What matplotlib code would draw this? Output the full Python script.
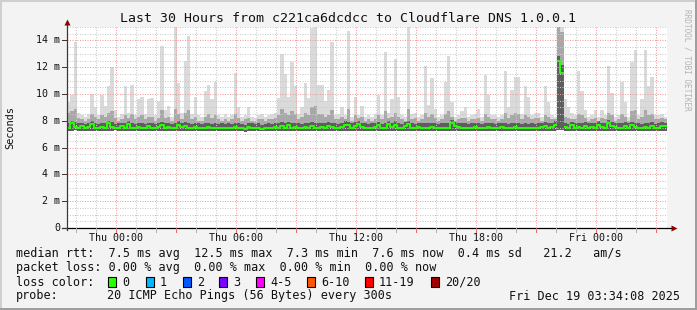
import numpy as np
import matplotlib
matplotlib.use("Agg")
import matplotlib.pyplot as plt
from matplotlib.patches import Rectangle

# ---------------- data (milliseconds, 10-minute steps, 30 hours) ----------------
start_hour = -2.4333          # Wed 21:34 relative to Thu 00:00
step_hours = 1.0 / 6.0

rtt_max = [
    9.4, 9.9, 13.9, 8.6, 8.4, 8.3, 8.5, 10.0, 9.0, 8.4,
    9.9, 9.1, 10.6, 12.0, 8.8, 8.3, 8.5, 10.6, 8.6, 10.7,
    8.4, 9.6, 9.8, 8.5, 9.6, 9.7, 8.4, 9.5, 13.6, 8.8,
    9.1, 8.3, 15.0, 10.8, 8.6, 12.5, 14.3, 8.5, 9.8, 8.4,
    8.3, 10.2, 10.7, 9.6, 10.9, 8.4, 8.3, 8.5, 8.3, 8.4,
    11.6, 9.0, 8.3, 8.4, 9.0, 8.3, 8.2, 8.4, 8.5, 8.3,
    8.4, 8.5, 8.6, 9.7, 13.0, 11.5, 9.8, 12.4, 10.6, 8.5,
    9.0, 10.8, 9.7, 14.9, 15.0, 10.7, 10.7, 9.5, 10.3, 13.9,
    8.4, 8.5, 9.0, 8.4, 14.7, 8.3, 9.8, 8.4, 9.1, 8.3,
    8.4, 8.3, 8.5, 9.9, 8.4, 13.1, 8.6, 9.6, 12.6, 9.8,
    8.4, 8.3, 15.0, 8.5, 8.6, 8.3, 8.4, 12.1, 9.2, 11.2,
    8.9, 8.3, 8.4, 10.9, 12.8, 9.4, 8.3, 8.4, 8.7, 9.0,
    8.3, 8.4, 8.5, 8.9, 8.3, 11.4, 9.9, 8.4, 8.4, 8.3,
    8.4, 11.7, 9.0, 10.3, 11.3, 11.3, 8.5, 10.6, 9.8, 8.4,
    8.6, 8.6, 8.3, 10.6, 9.4, 8.4, 8.3, 15.0, 15.0, 9.6,
    9.0, 8.6, 8.4, 11.7, 10.2, 8.8, 8.3, 8.4, 8.8, 8.3,
    8.8, 8.4, 12.1, 10.1, 8.3, 8.4, 10.9, 9.4, 8.3, 12.4,
    13.3, 8.4, 9.6, 13.3, 10.6, 11.3, 8.4, 8.4, 8.5, 8.3,
]

rtt_p90 = [
    8.6, 8.7, 8.9, 8.2, 8.1, 8.0, 8.1, 8.5, 8.3, 8.1,
    8.4, 8.3, 8.6, 8.7, 8.2, 8.0, 8.1, 8.4, 8.2, 8.5,
    8.1, 8.3, 8.4, 8.1, 8.3, 8.3, 8.0, 8.2, 8.8, 8.2,
    8.3, 8.0, 8.9, 8.5, 8.1, 8.6, 8.8, 8.1, 8.3, 8.0,
    8.0, 8.3, 8.5, 8.2, 8.4, 8.1, 8.0, 8.1, 8.0, 8.1,
    8.5, 8.2, 8.0, 8.1, 8.2, 8.0, 7.9, 8.1, 8.1, 8.0,
    8.1, 8.1, 8.2, 8.4, 8.9, 8.6, 8.4, 8.7, 8.5, 8.1,
    8.3, 8.6, 8.4, 9.0, 9.1, 8.5, 8.5, 8.3, 8.4, 8.8,
    8.1, 8.1, 8.3, 8.1, 8.9, 8.0, 8.4, 8.2, 8.3, 8.0,
    8.1, 8.0, 8.1, 8.4, 8.1, 8.7, 8.2, 8.3, 8.6, 8.3,
    8.1, 8.0, 8.9, 8.1, 8.2, 8.0, 8.1, 8.6, 8.3, 8.5,
    8.2, 8.0, 8.1, 8.5, 8.7, 8.3, 8.0, 8.1, 8.2, 8.2,
    8.0, 8.1, 8.1, 8.2, 8.0, 8.5, 8.3, 8.1, 8.1, 8.0,
    8.1, 8.6, 8.2, 8.4, 8.6, 8.5, 8.1, 8.4, 8.3, 8.1,
    8.2, 8.2, 8.0, 8.4, 8.3, 8.1, 8.1, 15.0, 14.6, 8.3,
    8.2, 8.1, 8.1, 8.5, 8.4, 8.2, 8.0, 8.1, 8.2, 8.0,
    8.2, 8.1, 8.6, 8.4, 8.0, 8.1, 8.5, 8.3, 8.0, 8.7,
    8.8, 8.1, 8.3, 8.8, 8.4, 8.5, 8.1, 8.1, 8.2, 8.1,
]

rtt_p75 = [
    7.80, 8.00, 7.90, 7.80, 7.85, 7.75, 7.80, 7.95, 7.80, 7.75,
    7.85, 7.80, 8.00, 7.90, 7.75, 7.80, 7.85, 7.80, 7.95, 7.80,
    7.75, 7.85, 7.80, 7.75, 7.85, 7.80, 7.75, 7.85, 7.90, 7.80,
    7.85, 7.75, 7.85, 7.95, 7.80, 7.90, 7.85, 7.75, 7.85, 7.80,
    7.75, 7.80, 7.85, 7.75, 7.80, 7.75, 7.80, 7.75, 7.80, 7.75,
    7.85, 7.80, 7.75, 7.70, 7.85, 7.80, 7.75, 7.80, 7.70, 7.75,
    7.80, 7.75, 7.85, 7.80, 7.90, 7.80, 7.90, 7.85, 7.85, 7.80,
    7.75, 7.85, 7.80, 7.90, 7.85, 7.80, 7.85, 7.80, 7.90, 7.85,
    7.80, 7.75, 7.85, 7.95, 7.90, 7.80, 7.90, 8.00, 7.85, 7.80,
    7.75, 7.80, 7.85, 7.90, 7.75, 7.85, 8.00, 7.85, 7.95, 7.80,
    7.75, 7.90, 8.00, 7.80, 7.75, 7.85, 7.80, 7.80, 7.80, 7.85,
    7.80, 7.75, 7.80, 7.80, 7.85, 8.05, 7.90, 7.85, 7.80, 7.80,
    7.75, 7.80, 7.85, 7.80, 7.75, 7.85, 7.85, 7.80, 7.75, 7.80,
    7.85, 7.85, 7.75, 7.80, 7.85, 7.80, 7.75, 7.85, 7.75, 7.80,
    7.75, 7.80, 7.85, 7.90, 7.80, 7.85, 7.95, 12.80, 12.20, 7.85,
    7.75, 7.90, 7.80, 7.85, 7.80, 7.90, 7.80, 7.85, 7.80, 7.95,
    7.85, 7.80, 8.05, 7.90, 7.85, 7.80, 7.80, 7.90, 7.80, 7.90,
    7.85, 7.80, 7.75, 7.85, 7.80, 7.90, 7.75, 7.80, 7.90, 7.85,
]

rtt_median = [
    7.45, 7.85, 7.55, 7.50, 7.60, 7.45, 7.55, 7.75, 7.50, 7.45,
    7.55, 7.50, 7.80, 7.55, 7.45, 7.50, 7.60, 7.50, 7.75, 7.50,
    7.45, 7.55, 7.50, 7.45, 7.60, 7.50, 7.45, 7.55, 7.65, 7.50,
    7.55, 7.45, 7.50, 7.70, 7.55, 7.60, 7.50, 7.45, 7.55, 7.50,
    7.45, 7.50, 7.55, 7.45, 7.50, 7.45, 7.50, 7.45, 7.50, 7.45,
    7.55, 7.50, 7.45, 7.40, 7.55, 7.50, 7.45, 7.50, 7.40, 7.45,
    7.50, 7.45, 7.55, 7.50, 7.60, 7.45, 7.65, 7.50, 7.55, 7.50,
    7.45, 7.55, 7.50, 7.60, 7.50, 7.45, 7.55, 7.50, 7.60, 7.55,
    7.50, 7.45, 7.55, 7.70, 7.65, 7.50, 7.60, 7.75, 7.55, 7.50,
    7.45, 7.50, 7.55, 7.65, 7.45, 7.50, 7.75, 7.55, 7.70, 7.50,
    7.45, 7.60, 7.75, 7.50, 7.45, 7.55, 7.50, 7.45, 7.50, 7.55,
    7.50, 7.45, 7.50, 7.45, 7.50, 7.80, 7.60, 7.55, 7.50, 7.50,
    7.45, 7.50, 7.55, 7.50, 7.45, 7.50, 7.55, 7.50, 7.45, 7.50,
    7.55, 7.50, 7.45, 7.50, 7.55, 7.50, 7.45, 7.50, 7.45, 7.50,
    7.45, 7.50, 7.55, 7.60, 7.50, 7.55, 7.70, 12.50, 11.60, 7.55,
    7.45, 7.65, 7.50, 7.55, 7.50, 7.60, 7.50, 7.55, 7.50, 7.70,
    7.55, 7.50, 7.80, 7.60, 7.55, 7.50, 7.45, 7.60, 7.50, 7.65,
    7.55, 7.50, 7.45, 7.55, 7.50, 7.60, 7.45, 7.50, 7.60, 7.60,
]

rtt_min = [
    7.25, 7.22, 7.28, 7.24, 7.26, 7.23, 7.27, 7.25, 7.22, 7.26,
    7.24, 7.27, 7.23, 7.25, 7.28, 7.22, 7.26, 7.24, 7.25, 7.23,
    7.26, 7.24, 7.22, 7.27, 7.25, 7.23, 7.26, 7.24, 7.22, 7.25,
    7.27, 7.23, 7.25, 7.24, 7.26, 7.22, 7.25, 7.27, 7.23, 7.24,
    7.26, 7.22, 7.25, 7.23, 7.27, 7.24, 7.22, 7.26, 7.25, 7.23,
    7.24, 7.26, 7.22, 7.20, 7.25, 7.23, 7.27, 7.24, 7.21, 7.25,
    7.23, 7.26, 7.24, 7.22, 7.25, 7.27, 7.23, 7.25, 7.24, 7.26,
    7.22, 7.25, 7.23, 7.27, 7.24, 7.22, 7.26, 7.25, 7.23, 7.24,
    7.26, 7.22, 7.25, 7.27, 7.23, 7.24, 7.26, 7.22, 7.25, 7.23,
    7.24, 7.26, 7.22, 7.25, 7.27, 7.23, 7.24, 7.26, 7.22, 7.25,
    7.23, 7.26, 7.24, 7.22, 7.25, 7.27, 7.23, 7.25, 7.24, 7.26,
    7.22, 7.25, 7.23, 7.27, 7.24, 7.22, 7.26, 7.25, 7.23, 7.24,
    7.26, 7.22, 7.25, 7.23, 7.27, 7.24, 7.22, 7.26, 7.25, 7.23,
    7.24, 7.26, 7.22, 7.25, 7.27, 7.23, 7.24, 7.26, 7.22, 7.25,
    7.23, 7.26, 7.24, 7.22, 7.25, 7.27, 7.23, 7.30, 7.28, 7.26,
    7.22, 7.25, 7.23, 7.27, 7.24, 7.22, 7.26, 7.25, 7.23, 7.24,
    7.26, 7.22, 7.25, 7.23, 7.27, 7.24, 7.22, 7.26, 7.25, 7.23,
    7.24, 7.26, 7.22, 7.25, 7.27, 7.23, 7.24, 7.26, 7.22, 7.25,
]

x_tick_hours = [0, 6, 12, 18, 24]
x_tick_labels = ["Thu 00:00", "Thu 06:00", "Thu 12:00", "Thu 18:00", "Fri 00:00"]
y_tick_values = [0, 2, 4, 6, 8, 10, 12, 14]
y_tick_labels = ["0", "2 m", "4 m", "6 m", "8 m", "10 m", "12 m", "14 m"]

title = "Last 30 Hours from c221ca6dcdcc to Cloudflare DNS 1.0.0.1"
legend_line1 = "median rtt:  7.5 ms avg  12.5 ms max  7.3 ms min  7.6 ms now  0.4 ms sd   21.2   am/s"
legend_line2 = "packet loss: 0.00 % avg  0.00 % max  0.00 % min  0.00 % now"
loss_labels = ["0", "1", "2", "3", "4-5", "6-10", "11-19", "20/20"]
loss_colors = ["#26ff00", "#00b8ff", "#0059ff", "#7e00ff", "#ff00ff", "#ff5500", "#ff0000", "#a10000"]
probe_text = "20 ICMP Echo Pings (56 Bytes) every 300s"
stamp_text = "Fri Dec 19 03:34:08 2025"

# ---------------- figure ----------------
W, H = 697, 310
BG = "#f3f3f3"
MONO = "DejaVu Sans Mono"

fig = plt.figure(figsize=(W / 100, H / 100), dpi=100, facecolor=BG)

def fx(x):
    return x / W

def fy(y):
    return 1 - y / H

# 3D-ish frame around the image
fig.add_artist(Rectangle((0, fy(2)), 1, 2 / H, transform=fig.transFigure,
                         facecolor="#cfcfcf", edgecolor="none"))
fig.add_artist(Rectangle((0, 0), 2 / W, 1, transform=fig.transFigure,
                         facecolor="#cfcfcf", edgecolor="none"))
fig.add_artist(Rectangle((0, 0), 1, 2 / H, transform=fig.transFigure,
                         facecolor="#9e9e9e", edgecolor="none"))
fig.add_artist(Rectangle((1 - 2 / W, 0), 2 / W, 1, transform=fig.transFigure,
                         facecolor="#9e9e9e", edgecolor="none"))

left, right, top, bottom = 67, 667, 27, 228
ax = fig.add_axes([fx(left), fy(bottom), (right - left) / W, (bottom - top) / H])
ax.set_facecolor("white")
for s in ax.spines.values():
    s.set_visible(False)

n = len(rtt_median)
edges = start_hour + step_hours * np.arange(n + 1)

def ext(a):
    a = np.asarray(a, dtype=float)
    return np.append(a, a[-1])

ax.fill_between(edges, ext(rtt_min), ext(rtt_max), step="post",
                color="#dadada", lw=0, zorder=1)
ax.fill_between(edges, ext(rtt_min), ext(rtt_p90), step="post",
                color="#a8a8a8", lw=0, zorder=2)
ax.fill_between(edges, ext(rtt_min), ext(rtt_p75), step="post",
                color="#5e5e5e", lw=0, zorder=3)

ax.set_xlim(start_hour, start_hour + 30)
ax.set_ylim(0, 15)
ax.set_xticks([])
ax.set_yticks([])

# grid
minor_c = "#c8c8c8"
major_c = "#f29a9a"
for h in range(-2, 28):
    is_major = (h % 3 == 0)
    ax.axvline(h, color=major_c if is_major else minor_c, lw=0.72,
               dashes=(1, 1.5), zorder=4)
for v in np.arange(0.5, 15.01, 0.5):
    is_major = abs(v % 2) < 1e-9
    ax.axhline(v, color=major_c if is_major else minor_c, lw=0.72,
               dashes=(1, 1.5), zorder=4)

# median line (steps, broken at big jumps)
med = np.asarray(rtt_median)
xs, ys = [], []
for i in range(n):
    if i > 0 and abs(med[i] - med[i - 1]) > 1.0:
        xs.append(np.nan)
        ys.append(np.nan)
    xs += [edges[i], edges[i + 1]]
    ys += [med[i], med[i]]
ax.plot(xs, ys, color=loss_colors[0], lw=1.4, zorder=6, solid_capstyle="butt")

# axes lines with arrows
axis_c = "#3a3a3a"
ax.plot([0, 0], [-0.01, 1.02], transform=ax.transAxes, color=axis_c, lw=0.9,
        clip_on=False, zorder=7)
ax.plot([-0.008, 1.008], [0, 0], transform=ax.transAxes, color="black", lw=0.9,
        clip_on=False, zorder=7)
ax.plot([0], [1.025], transform=ax.transAxes, marker="^", ms=4.5,
        color="#8b0000", clip_on=False, zorder=8, mec="none")
ax.plot([1.011], [0], transform=ax.transAxes, marker=">", ms=4.5,
        color="#8b0000", clip_on=False, zorder=8, mec="none")

# tick marks
for h in range(-2, 28):
    c = "#e07070" if h % 3 == 0 else "#b0b0b0"
    ax.plot([h, h], [0, -0.3], color=c, lw=0.72, clip_on=False, zorder=7)
for v in y_tick_values:
    ax.plot([start_hour - 0.25, start_hour], [v, v], color=axis_c, lw=0.72,
            clip_on=False, zorder=7)

# tick labels
for h, lab in zip(x_tick_hours, x_tick_labels):
    xp = left + (h - start_hour) / 30 * (right - left)
    fig.text(fx(xp), fy(238), lab, family=MONO, fontsize=7.2,
             ha="center", va="center", color="#111111")
for v, lab in zip(y_tick_values, y_tick_labels):
    yp = bottom - v / 15 * (bottom - top)
    fig.text(fx(60), fy(yp), lab, family=MONO, fontsize=7.2,
             ha="right", va="center", color="#111111")

fig.text(fx(10), fy(128), "Seconds", family=MONO, fontsize=7.4, rotation=90,
         ha="center", va="center", color="#111111")
fig.text(fx(687), fy(60), "RRDTOOL / TOBI OETIKER", family=MONO, fontsize=5.6,
         rotation=270, ha="center", va="center", color="#b4b4b4")

fig.text(fx(348), fy(19), title, family=MONO, fontsize=9.5,
         ha="center", va="center", color="#111111")

# legend
LF = 8.5
fig.text(fx(16), fy(254), legend_line1, family=MONO, fontsize=LF,
         ha="left", va="center", color="#111111")
fig.text(fx(16), fy(268), legend_line2, family=MONO, fontsize=LF,
         ha="left", va="center", color="#111111")
fig.text(fx(16), fy(282), "loss color:", family=MONO, fontsize=LF,
         ha="left", va="center", color="#111111")
box_x = [108, 146, 183, 219, 256, 307, 365, 431]
for bx, lab, col in zip(box_x, loss_labels, loss_colors):
    fig.add_artist(Rectangle((fx(bx), fy(287)), 8 / W, 10 / H,
                             transform=fig.transFigure, facecolor=col,
                             edgecolor="black", lw=0.8))
    fig.text(fx(bx + 14), fy(282), lab, family=MONO, fontsize=LF,
             ha="left", va="center", color="#111111")
fig.text(fx(16), fy(296), "probe:", family=MONO, fontsize=LF,
         ha="left", va="center", color="#111111")
fig.text(fx(107), fy(296), probe_text, family=MONO, fontsize=LF,
         ha="left", va="center", color="#111111")
fig.text(fx(680), fy(296), stamp_text, family=MONO, fontsize=LF,
         ha="right", va="center", color="#111111")

fig.savefig("out.png", dpi=100, facecolor=BG)
